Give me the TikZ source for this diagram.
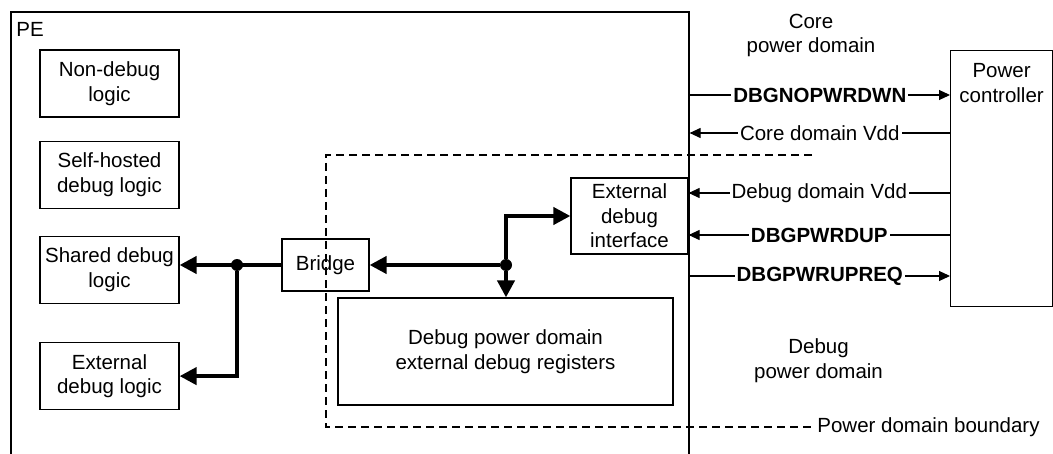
\documentclass[tikz,border=0pt]{standalone}
\usepackage{fontspec}
\setmainfont{Liberation Sans}
\usetikzlibrary{positioning, arrows.meta}

\begin{document}
\begin{tikzpicture}[
	x=0.5pt, y=-0.5pt,
	font=\fontsize{10.25}{12.25}\selectfont,
	% Define styles for the blocks
	box/.style={
		draw, 
		line width=0.6pt, 
		align=center,
		inner sep=0pt,
		minimum width=69.5pt, 
		minimum height=33.5pt
	},
	bus/.style={
		line width=2pt, 
		-{Triangle[length=8.5pt, width=8.5pt]}
	},
	sig/.style={
		line width=0.55pt, 
		-{Triangle[length=5.5pt, width=5pt]}
	},
	sig_text/.style={
		fill=white, 
		inner xsep=1pt, 
		inner ysep=1pt
	},
	dot/.style={
		circle, 
		fill, 
		inner sep=0pt, 
		minimum size=6pt
	},
	boundary/.style={
		line width=0.7pt, 
		dash pattern=on 4pt off 2.5pt
	}
	]
	
	\useasboundingbox (0,0) rectangle (1053,454);
	\clip (0,0) rectangle (1053,454);
	
	% --- 1. PE ---
	\node[draw, line width=0.8pt, anchor=north west, inner sep=0pt, minimum width=339pt, minimum height=240pt] (pe) at (10,11) {};
	\node[anchor=base west, inner sep=0pt] (pe_label) at ([xshift=3pt, yshift=-13pt]pe.north west) {PE};
	
	% --- 2. LOGIC BLOCKS ---
	\node[box] (nondebug) at (109.5,83.5) {Non-debug\\logic};
	\node[box, below=11.5pt of nondebug] (selfhosted) {Self-hosted\\debug logic};
	\node[box, below=13.5pt of selfhosted] (shared) {Shared debug\\logic};
	\node[box, below=19pt of shared] (extlogic) {External\\debug logic};
	
	% --- 3. BRIDGE AND DEBUG DOMAIN ---
	\node[box, minimum width=43.5pt, minimum height=26pt] (bridge) at (325.5,265) {Bridge};
	\node[box, minimum width=58.5pt, minimum height=38pt] (extif) at (629.5,216) {External\\debug\\interface};
	\node[box, minimum width=167.5pt, minimum height=53.5pt] (regs) at (505.5,351.5) {Debug power domain\\external debug registers};
	
	\node[dot] (j1) at (237,265) {};
	\node[dot] (j2) at (506,265) {};
	
	\draw[bus] (bridge.west) -- (bridge.west -| shared.east);
	\draw[bus] (j1) |- (extlogic.east);
	\draw[bus] (j2) -- (bridge.east);
	\draw[bus] (j2) |- (extif.west);
	\draw[bus] (j2) -- (j2 |- regs.north);
	
	% --- 4. POWER CONTROLLER ---
	\node[box, anchor=north west, minimum width=51pt, minimum height=128pt] (pwrctl) at (950,50) {};
	\node[below=6.5pt of pwrctl.north, inner sep=0pt, align=center] (pwr_text) {Power\\controller};
	
	\draw[sig] (pe.east |- 0,95) -- node[sig_text] {\bfseries DBGNOPWRDWN} (pwrctl.west |- 0,95);
	\draw[sig] (pwrctl.west |- 0,133) -- node[sig_text] {Core domain Vdd} (pe.east |- 0,133);
	\draw[sig] (pwrctl.west |- 0,193) -- node[sig_text] {Debug domain Vdd} (extif.east |- 0,193);
	\draw[sig] (pwrctl.west |- 0,235) -- node[sig_text] {\bfseries DBGPWRDUP} (extif.east |- 0,235);
	\draw[sig] (pe.east |- 0,276) -- node[sig_text] {\bfseries DBGPWRUPREQ} (pwrctl.west |- 0,276);
	
	% --- 5. POWER DOMAINS ---
	\node[align=center] (core_dom) at (811,35.5) {Core\\power domain};
	\node[align=center] (debug_dom) at (818.5,360.5) {Debug\\power domain};
	
	\node[anchor=west, inner sep=1pt] (pdb) at (815,427) {Power domain boundary};
	\coordinate (core_end) at (812,155);
	\draw[boundary] (core_end) -- (326,155) -- (326,427) -- (pdb.west);
	
\end{tikzpicture}
\end{document}
